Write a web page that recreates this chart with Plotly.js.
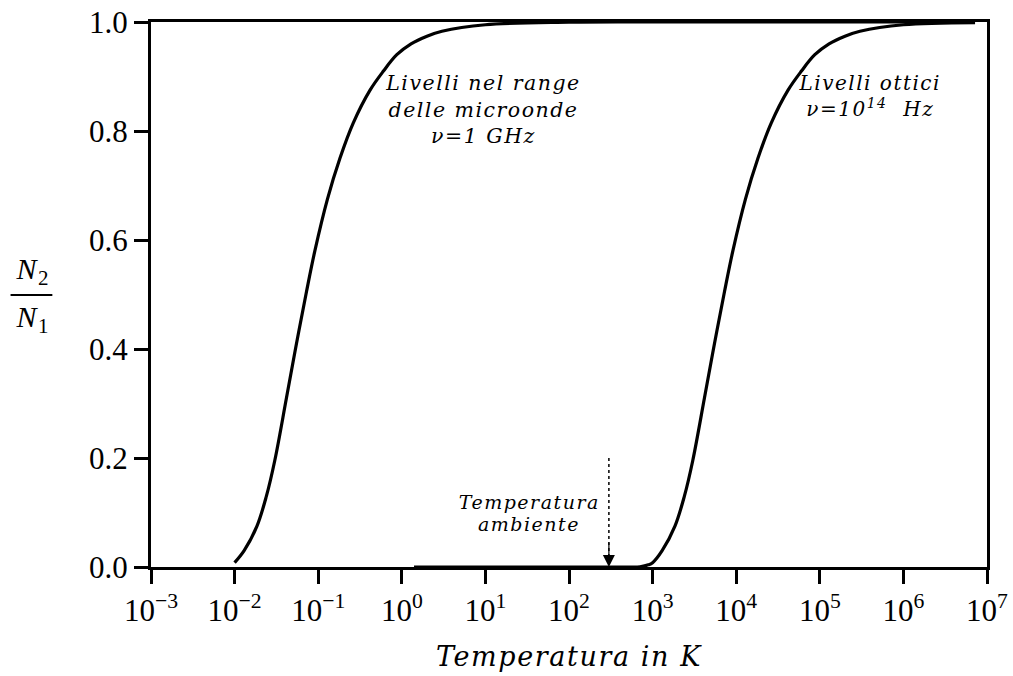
<!DOCTYPE html>
<html>
<head>
<meta charset="utf-8">
<script src="https://cdn.plot.ly/plotly-3.0.1.min.js"></script>
<style>
  html, body { margin: 0; padding: 0; background: #fff; }
  #chart { width: 1013px; height: 676px; }
  #chart .annotation-text { letter-spacing: 1.5px; }
  #chart .xtitle { letter-spacing: 1.6px; }
</style>
</head>
<body>
<div id="chart"></div>
<script>
// Curve 1: microwave levels, nu = 1 GHz  (temperature in K, N2/N1)
const microT = [0.0100, 0.0130, 0.0185, 0.0240, 0.0302, 0.0417, 0.0550, 0.0724, 0.0912, 0.129, 0.182, 0.263, 0.417, 0.603, 0.871, 1.29, 2.0, 3.02, 10, 100, 1000, 1e5, 7e6];
const microR = [0.008, 0.03, 0.075, 0.13, 0.195, 0.31, 0.41, 0.505, 0.58, 0.675, 0.75, 0.815, 0.875, 0.91, 0.94, 0.96, 0.974, 0.983, 0.995, 0.9995, 1.0, 1.0, 1.0];

// Curve 2: optical levels, nu = 1e14 Hz
const optT = [1.4, 10, 100, 500, 708, 891, 1000, 1300, 1850, 2400, 3020, 4170, 5500, 7240, 9120, 12900, 18200, 26300, 41700, 60300, 87100, 129000, 200000, 302000, 1e6, 7.2e6];
const optR = [0.0, 0.0, 0.0, 0.0, 0.0005, 0.004, 0.008, 0.03, 0.075, 0.13, 0.195, 0.31, 0.41, 0.505, 0.58, 0.675, 0.75, 0.815, 0.875, 0.91, 0.94, 0.96, 0.974, 0.983, 0.995, 0.999];

// Room temperature marker
const roomT = [300, 300];
const roomArrowR = [0.2, 0.0];

// Axis ticks
const xTickVals = [1e-3, 1e-2, 1e-1, 1e0, 1e1, 1e2, 1e3, 1e4, 1e5, 1e6, 1e7];
const xTickText = ['10<sup>−3</sup>', '10<sup>−2</sup>', '10<sup>−1</sup>', '10<sup>0</sup>', '10<sup>1</sup>', '10<sup>2</sup>', '10<sup>3</sup>', '10<sup>4</sup>', '10<sup>5</sup>', '10<sup>6</sup>', '10<sup>7</sup>'];
const yTickVals = [0.0, 0.2, 0.4, 0.6, 0.8, 1.0];
const yTickText = ['0.0', '0.2', '0.4', '0.6', '0.8', '1.0'];

const serif = 'Liberation Serif, DejaVu Serif, serif';
const ital = 'DejaVu Serif, Liberation Serif, serif';

const traces = [
  { x: microT, y: microR, mode: 'lines', line: { color: '#000', width: 3.2, shape: 'spline', smoothing: 1 }, hoverinfo: 'skip' },
  { x: optT, y: optR, mode: 'lines', line: { color: '#000', width: 3.2, shape: 'spline', smoothing: 1 }, hoverinfo: 'skip' },
  { x: roomT, y: roomArrowR, mode: 'lines', line: { color: '#000', width: 1.5, dash: 'dot' }, hoverinfo: 'skip' }
];

const layout = {
  width: 1013, height: 676,
  margin: { l: 151, r: 26, t: 22, b: 109 },
  paper_bgcolor: '#fff', plot_bgcolor: '#fff',
  showlegend: false,
  font: { family: serif, color: '#000', size: 31 },
  xaxis: {
    type: 'log', range: [-3, 7],
    tickmode: 'array', tickvals: xTickVals, ticktext: xTickText,
    ticks: 'outside', ticklen: 14, tickwidth: 3, tickcolor: '#000',
    showline: true, linewidth: 3, linecolor: '#000', mirror: true,
    showgrid: false, zeroline: false,
    tickfont: { family: serif, size: 31, color: '#000' },
    title: { text: '<i>Temperatura in K</i>', font: { family: ital, size: 27, color: '#000' }, standoff: 20 }
  },
  yaxis: {
    range: [0, 1],
    tickmode: 'array', tickvals: yTickVals, ticktext: yTickText,
    ticks: 'outside', ticklen: 14, tickwidth: 3, tickcolor: '#000',
    showline: true, linewidth: 3, linecolor: '#000', mirror: true,
    showgrid: false, zeroline: false,
    tickfont: { family: serif, size: 31, color: '#000' }
  },
  shapes: [
    { type: 'line', xref: 'paper', yref: 'paper', x0: -0.168, x1: -0.118, y0: 0.499, y1: 0.499, line: { color: '#000', width: 2 } }
  ],
  annotations: [
    { xref: 'paper', yref: 'paper', x: -0.141, y: 0.499, xanchor: 'center', yanchor: 'middle', yshift: 24, text: '<i>N</i><sub>2</sub>', showarrow: false, font: { family: serif, size: 30, color: '#000' } },
    { xref: 'paper', yref: 'paper', x: -0.141, y: 0.499, xanchor: 'center', yanchor: 'middle', yshift: -24, text: '<i>N</i><sub>1</sub>', showarrow: false, font: { family: serif, size: 30, color: '#000' } },
    { x: 0.97, y: 0.84, xanchor: 'center', yanchor: 'middle', text: '<i>Livelli nel range<br>delle microonde<br>ν=1 GHz</i>', showarrow: false, align: 'center', font: { family: ital, size: 20.5, color: '#000' } },
    { x: 5.6, y: 0.864, xanchor: 'center', yanchor: 'middle', text: '<i>Livelli ottici<br>ν=10<sup>14</sup>  Hz</i>', showarrow: false, align: 'center', font: { family: ital, size: 20, color: '#000' } },
    { x: 1.522, y: 0.12, xanchor: 'center', yanchor: 'middle', text: '<i>Temperatura</i>', showarrow: false, font: { family: ital, size: 19, color: '#000' } },
    { x: 1.522, y: 0.078, xanchor: 'center', yanchor: 'middle', text: '<i>ambiente</i>', showarrow: false, font: { family: ital, size: 19, color: '#000' } },
    { x: Math.log10(roomT[0]), y: roomArrowR[1], ax: 0, ay: -26, axref: 'pixel', ayref: 'pixel', text: '', showarrow: true, arrowhead: 2, arrowsize: 2, arrowwidth: 1.2, arrowcolor: '#000', standoff: 0 }
  ]
};

Plotly.newPlot('chart', traces, layout, { staticPlot: true, displayModeBar: false });
</script>
</body>
</html>
